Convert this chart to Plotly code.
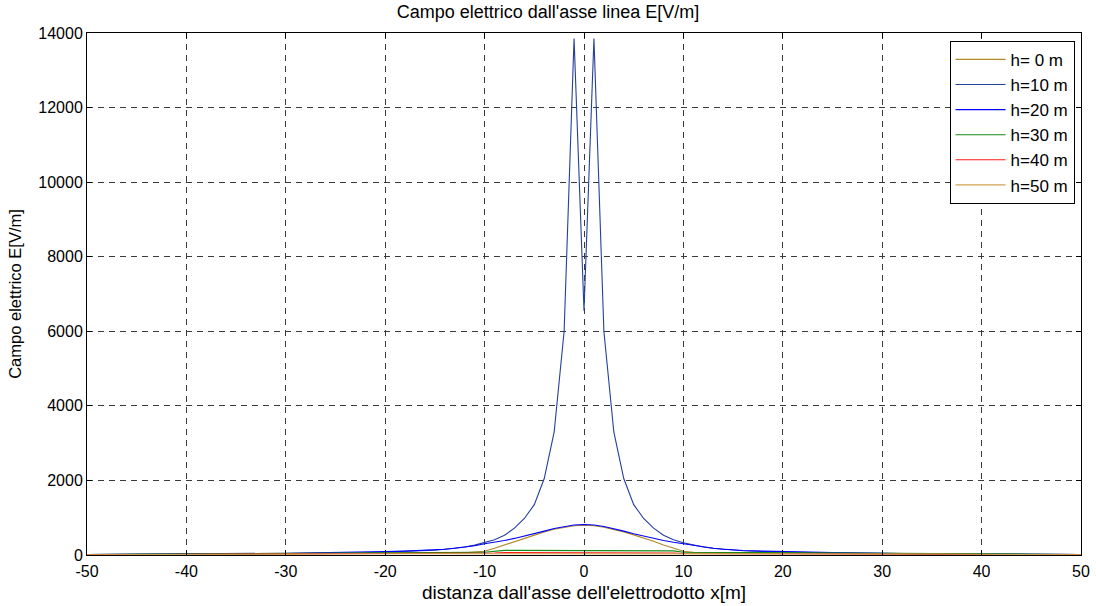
import plotly.graph_objects as go

# Sample positions along the ground (m)
x_m = [-50, -45, -40, -35, -30, -27, -25, -22, -20, -18, -16, -15, -14, -13, -12, -11,
       -10, -9, -8, -7, -6, -5, -4, -3, -2, -1, 0, 1, 2, 3, 4, 5, 6, 7, 8, 9,
       10, 11, 12, 13, 14, 15, 16, 18, 20, 22, 25, 27, 30, 35, 40, 45, 50]

# Electric field values E [V/m] for each height
E_h0 = [10, 20, 25, 30, 35, 38, 40, 40, 42, 45, 48, 50, 52, 56, 62, 75,
        100, 180, 270, 370, 460, 540, 620, 690, 745, 785, 800, 785, 745, 690, 620, 540, 460, 370, 270, 180,
        100, 75, 62, 56, 52, 50, 48, 45, 42, 40, 40, 38, 35, 30, 25, 20, 10]
E_h10 = [15, 20, 25, 30, 40, 45, 50, 60, 80, 95, 115, 130, 155, 180, 215, 265,
         330, 410, 530, 720, 980, 1350, 2050, 3300, 6000, 13850, 6550, 13850, 6000, 3300, 2050, 1350, 980, 720, 530, 410,
         330, 265, 215, 180, 155, 130, 115, 95, 80, 60, 50, 45, 40, 30, 25, 20, 15]
E_h20 = [10, 15, 20, 25, 40, 60, 65, 75, 90, 105, 120, 135, 155, 180, 210, 250,
         300, 340, 390, 445, 505, 570, 640, 710, 765, 805, 820, 805, 765, 710, 640, 570, 505, 445, 390, 340,
         300, 250, 210, 180, 155, 135, 120, 105, 90, 75, 65, 60, 40, 25, 20, 15, 10]
E_h30 = [10, 20, 30, 45, 55, 58, 60, 65, 70, 70, 70, 70, 72, 72, 73, 74,
         75, 110, 125, 125, 125, 125, 125, 125, 125, 125, 125, 125, 125, 125, 125, 125, 125, 125, 125, 110,
         75, 74, 73, 72, 72, 70, 70, 70, 70, 65, 60, 58, 55, 45, 30, 20, 10]
E_h40 = [5, 10, 15, 20, 30, 32, 33, 34, 35, 36, 37, 38, 38, 39, 39, 40,
         40, 55, 65, 65, 65, 65, 65, 65, 65, 65, 65, 65, 65, 65, 65, 65, 65, 65, 65, 55,
         40, 40, 39, 39, 38, 38, 37, 36, 35, 34, 33, 32, 30, 20, 15, 10, 5]
E_h50 = [8, 15, 20, 25, 28, 30, 30, 32, 33, 34, 35, 35, 36, 36, 37, 38,
         40, 45, 48, 48, 48, 48, 48, 48, 48, 48, 48, 48, 48, 48, 48, 48, 48, 48, 48, 45,
         40, 38, 37, 36, 36, 35, 35, 34, 33, 32, 30, 30, 28, 25, 20, 15, 8]

series_names = ["h= 0 m", "h=10 m", "h=20 m", "h=30 m", "h=40 m", "h=50 m"]
series_values = [E_h0, E_h10, E_h20, E_h30, E_h40, E_h50]
series_colors = ["#b08828", "#24409c", "#0000ff", "#138a13", "#ff1a1a", "#cfa452"]

x_ticks = [-50, -40, -30, -20, -10, 0, 10, 20, 30, 40, 50]
y_ticks = [0, 2000, 4000, 6000, 8000, 10000, 12000, 14000]

FONT = "Liberation Sans, Arial, sans-serif"

fig = go.Figure()
for name, vals, col in zip(series_names, series_values, series_colors):
    fig.add_trace(go.Scatter(x=x_m, y=vals, mode="lines", name=name,
                             line=dict(color=col, width=1.1)))

axis_common = dict(
    showline=True, linecolor="black", linewidth=1, mirror="ticks",
    ticks="inside", ticklen=5, tickcolor="black", automargin=False,
    showgrid=True, gridcolor="#3a3a3a", gridwidth=1, griddash="6px,5px",
    zeroline=False, tickfont=dict(family=FONT, size=16, color="black"),
)

fig.update_layout(
    width=1096, height=606,
    paper_bgcolor="white", plot_bgcolor="white",
    margin=dict(l=87, r=15, t=33, b=51, autoexpand=False),
    font=dict(family=FONT, color="black", size=16),
    title=dict(text="Campo elettrico dall'asse linea E[V/m]", x=0.5, xanchor="center",
               y=1 - 12 / 606, yanchor="middle", font=dict(size=18, family=FONT)),
    xaxis=dict(range=[-50, 50], tickvals=x_ticks, ticktext=[str(v) for v in x_ticks],
               ticklabelstandoff=2,
               title=dict(text="distanza dall'asse dell'elettrodotto x[m]", standoff=6,
                          font=dict(size=19, family=FONT)),
               **axis_common),
    yaxis=dict(range=[0, 14000], tickvals=y_ticks, ticktext=[str(v) for v in y_ticks],
               title=dict(text="Campo elettrico E[V/m]", standoff=12,
                          font=dict(size=16.5, family=FONT)),
               **axis_common),
    legend=dict(x=0.9935, y=0.985, xanchor="right", yanchor="top",
                bgcolor="white", bordercolor="black", borderwidth=1,
                font=dict(size=17, family=FONT), itemwidth=50, tracegroupgap=0),
    showlegend=True,
)

fig.write_html("out.html")
